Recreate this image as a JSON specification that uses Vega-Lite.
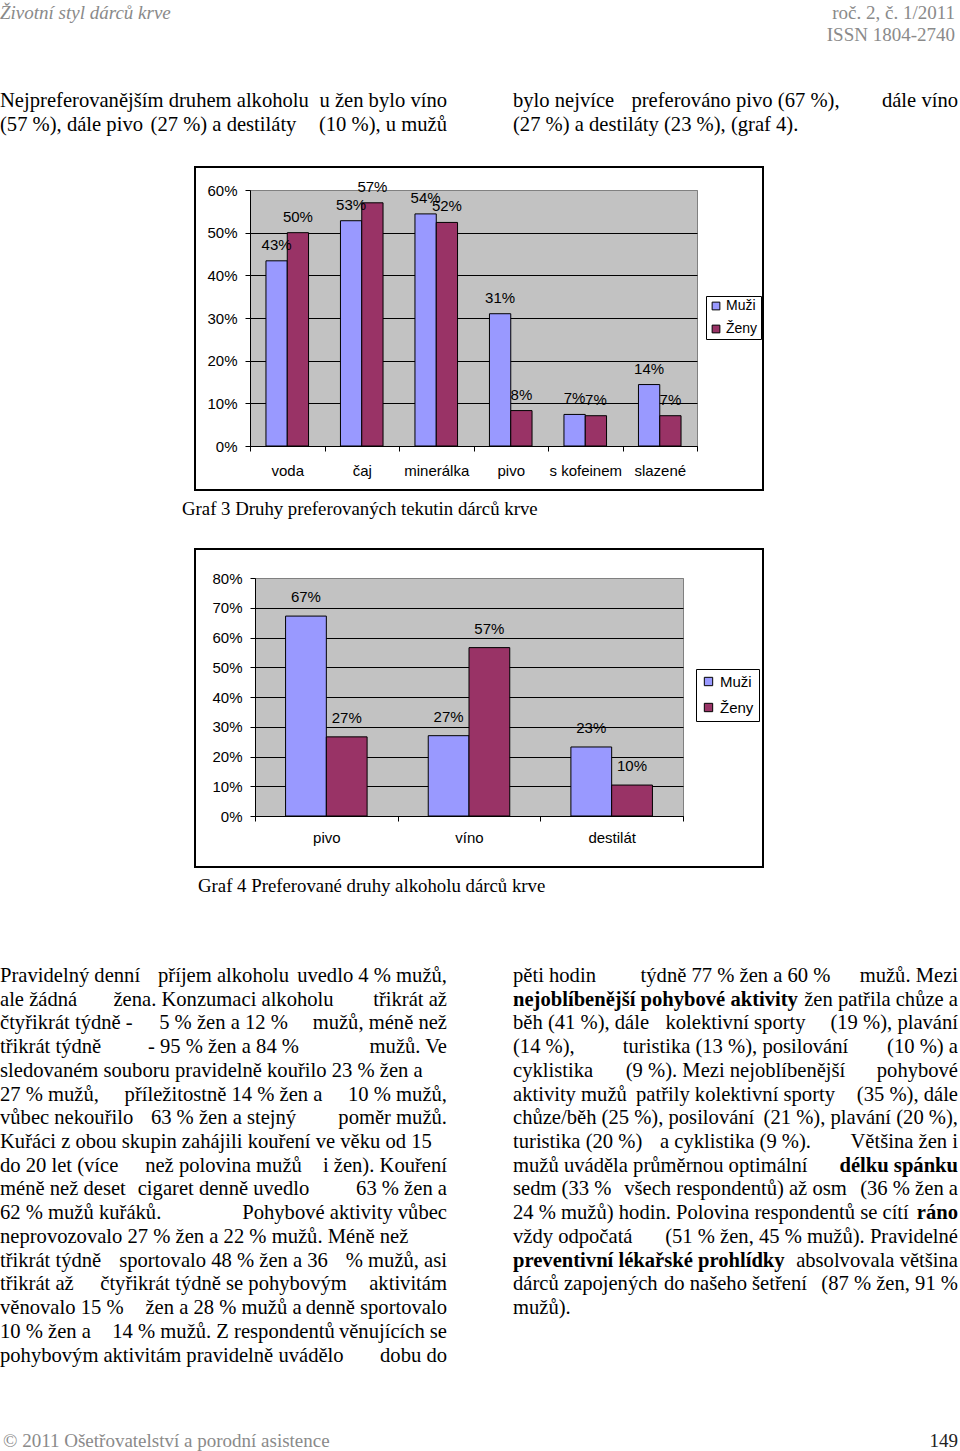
{
  "$schema": "https://vega.github.io/schema/vega-lite/v6.json",
  "padding": 0,
  "background": "white",
  "spacing": 0,
  "resolve": {"scale": {"color": "independent", "xOffset": "independent"}, "legend": {"color": "independent"}},
  "config": {"view": {"stroke": null}},
  "datasets": {
    "head": [
      {"col": "L", "ln": 1, "t": "Životní styl dárců krve"},
      {"col": "R", "ln": 1, "t": "roč. 2, č. 1/2011"},
      {"col": "R", "ln": 2, "t": "ISSN 1804-2740"}
    ],
    "top": [
      {"col": "L", "ln": 1, "part": "lead", "t": "Nejpreferovanějším druhem alkoholu"},
      {"col": "L", "ln": 1, "part": "tail", "t": "u žen bylo víno"},
      {"col": "L", "ln": 2, "part": "lead", "t": "(57 %), dále pivo"},
      {"col": "L", "ln": 2, "part": "mid", "t": "(27 %) a destiláty"},
      {"col": "L", "ln": 2, "part": "tail", "t": "(10 %), u mužů"},
      {"col": "R", "ln": 1, "part": "lead", "t": "bylo nejvíce"},
      {"col": "R", "ln": 1, "part": "mid", "t": "preferováno pivo (67 %),"},
      {"col": "R", "ln": 1, "part": "tail", "t": "dále víno"},
      {"col": "R", "ln": 2, "part": "whole", "t": "(27 %) a destiláty (23 %), (graf 4)."}
    ],
    "g3": [
      {"cat": "voda", "sex": "Muži", "v": 0.434},
      {"cat": "voda", "sex": "Ženy", "v": 0.5},
      {"cat": "čaj", "sex": "Muži", "v": 0.528},
      {"cat": "čaj", "sex": "Ženy", "v": 0.57},
      {"cat": "minerálka", "sex": "Muži", "v": 0.544},
      {"cat": "minerálka", "sex": "Ženy", "v": 0.524},
      {"cat": "pivo", "sex": "Muži", "v": 0.31},
      {"cat": "pivo", "sex": "Ženy", "v": 0.083},
      {"cat": "s kofeinem", "sex": "Muži", "v": 0.074},
      {"cat": "s kofeinem", "sex": "Ženy", "v": 0.071},
      {"cat": "slazené", "sex": "Muži", "v": 0.144},
      {"cat": "slazené", "sex": "Ženy", "v": 0.071}
    ],
    "g4": [
      {"cat": "pivo", "sex": "Muži", "v": 0.672},
      {"cat": "pivo", "sex": "Ženy", "v": 0.266},
      {"cat": "víno", "sex": "Muži", "v": 0.27},
      {"cat": "víno", "sex": "Ženy", "v": 0.566},
      {"cat": "destilát", "sex": "Muži", "v": 0.232},
      {"cat": "destilát", "sex": "Ženy", "v": 0.104}
    ],
    "caps": [
      {"fig": "3", "col": "L", "ln": 1, "t": "Graf 3 Druhy preferovaných tekutin dárců krve"},
      {"fig": "4", "col": "L", "ln": 1, "t": "Graf 4 Preferované druhy alkoholu dárců krve"}
    ],
    "body": [
      {"col": "L", "ln": 1, "part": "lead", "em": false, "t": "Pravidelný denní"},
      {"col": "L", "ln": 1, "part": "mid", "em": false, "t": "příjem alkoholu"},
      {"col": "L", "ln": 1, "part": "tail", "em": false, "t": "uvedlo 4 % mužů,"},
      {"col": "L", "ln": 2, "part": "lead", "em": false, "t": "ale žádná"},
      {"col": "L", "ln": 2, "part": "mid", "em": false, "t": "žena. Konzumaci alkoholu"},
      {"col": "L", "ln": 2, "part": "tail", "em": false, "t": "třikrát až"},
      {"col": "L", "ln": 3, "part": "lead", "em": false, "t": "čtyřikrát týdně -"},
      {"col": "L", "ln": 3, "part": "mid", "em": false, "t": "5 % žen a 12 %"},
      {"col": "L", "ln": 3, "part": "tail", "em": false, "t": "mužů, méně než"},
      {"col": "L", "ln": 4, "part": "lead", "em": false, "t": "třikrát týdně"},
      {"col": "L", "ln": 4, "part": "mid", "em": false, "t": "- 95 % žen a 84 %"},
      {"col": "L", "ln": 4, "part": "tail", "em": false, "t": "mužů. Ve"},
      {"col": "L", "ln": 5, "part": "whole", "em": false, "t": "sledovaném souboru pravidelně kouřilo 23 % žen a"},
      {"col": "L", "ln": 6, "part": "lead", "em": false, "t": "27 % mužů,"},
      {"col": "L", "ln": 6, "part": "mid", "em": false, "t": "příležitostně 14 % žen a"},
      {"col": "L", "ln": 6, "part": "tail", "em": false, "t": "10 % mužů,"},
      {"col": "L", "ln": 7, "part": "lead", "em": false, "t": "vůbec nekouřilo"},
      {"col": "L", "ln": 7, "part": "mid", "em": false, "t": "63 % žen a stejný"},
      {"col": "L", "ln": 7, "part": "tail", "em": false, "t": "poměr mužů."},
      {"col": "L", "ln": 8, "part": "whole", "em": false, "t": "Kuřáci z obou skupin zahájili kouření ve věku od 15"},
      {"col": "L", "ln": 9, "part": "lead", "em": false, "t": "do 20 let (více"},
      {"col": "L", "ln": 9, "part": "mid", "em": false, "t": "než polovina mužů"},
      {"col": "L", "ln": 9, "part": "tail", "em": false, "t": "i žen). Kouření"},
      {"col": "L", "ln": 10, "part": "lead", "em": false, "t": "méně než deset"},
      {"col": "L", "ln": 10, "part": "mid", "em": false, "t": "cigaret denně uvedlo"},
      {"col": "L", "ln": 10, "part": "tail", "em": false, "t": "63 % žen a"},
      {"col": "L", "ln": 11, "part": "lead", "em": false, "t": "62 % mužů kuřáků."},
      {"col": "L", "ln": 11, "part": "tail", "em": false, "t": "Pohybové aktivity vůbec"},
      {"col": "L", "ln": 12, "part": "whole", "em": false, "t": "neprovozovalo 27 % žen a 22 % mužů. Méně než"},
      {"col": "L", "ln": 13, "part": "lead", "em": false, "t": "třikrát týdně"},
      {"col": "L", "ln": 13, "part": "mid", "em": false, "t": "sportovalo 48 % žen a 36"},
      {"col": "L", "ln": 13, "part": "tail", "em": false, "t": "% mužů, asi"},
      {"col": "L", "ln": 14, "part": "lead", "em": false, "t": "třikrát až"},
      {"col": "L", "ln": 14, "part": "mid", "em": false, "t": "čtyřikrát týdně se pohybovým"},
      {"col": "L", "ln": 14, "part": "tail", "em": false, "t": "aktivitám"},
      {"col": "L", "ln": 15, "part": "lead", "em": false, "t": "věnovalo 15 %"},
      {"col": "L", "ln": 15, "part": "mid", "em": false, "t": "žen a 28 % mužů a"},
      {"col": "L", "ln": 15, "part": "tail", "em": false, "t": "denně sportovalo"},
      {"col": "L", "ln": 16, "part": "lead", "em": false, "t": "10 % žen a"},
      {"col": "L", "ln": 16, "part": "mid", "em": false, "t": "14 % mužů. Z respondentů"},
      {"col": "L", "ln": 16, "part": "tail", "em": false, "t": "věnujících se"},
      {"col": "L", "ln": 17, "part": "lead", "em": false, "t": "pohybovým"},
      {"col": "L", "ln": 17, "part": "mid", "em": false, "t": "aktivitám pravidelně uvádělo"},
      {"col": "L", "ln": 17, "part": "tail", "em": false, "t": "dobu do"},
      {"col": "R", "ln": 1, "part": "lead", "em": false, "t": "pěti hodin"},
      {"col": "R", "ln": 1, "part": "mid", "em": false, "t": "týdně 77 % žen a 60 %"},
      {"col": "R", "ln": 1, "part": "tail", "em": false, "t": "mužů. Mezi"},
      {"col": "R", "ln": 2, "part": "lead", "em": true, "t": "nejoblíbenější pohybové aktivity"},
      {"col": "R", "ln": 2, "part": "tail", "em": false, "t": "žen patřila chůze a"},
      {"col": "R", "ln": 3, "part": "lead", "em": false, "t": "běh (41 %), dále"},
      {"col": "R", "ln": 3, "part": "mid", "em": false, "t": "kolektivní sporty"},
      {"col": "R", "ln": 3, "part": "tail", "em": false, "t": "(19 %), plavání"},
      {"col": "R", "ln": 4, "part": "lead", "em": false, "t": "(14 %),"},
      {"col": "R", "ln": 4, "part": "mid", "em": false, "t": "turistika (13 %), posilování"},
      {"col": "R", "ln": 4, "part": "tail", "em": false, "t": "(10 %) a"},
      {"col": "R", "ln": 5, "part": "lead", "em": false, "t": "cyklistika"},
      {"col": "R", "ln": 5, "part": "mid", "em": false, "t": "(9 %). Mezi nejoblíbenější"},
      {"col": "R", "ln": 5, "part": "tail", "em": false, "t": "pohybové"},
      {"col": "R", "ln": 6, "part": "lead", "em": false, "t": "aktivity mužů"},
      {"col": "R", "ln": 6, "part": "mid", "em": false, "t": "patřily kolektivní sporty"},
      {"col": "R", "ln": 6, "part": "tail", "em": false, "t": "(35 %), dále"},
      {"col": "R", "ln": 7, "part": "lead", "em": false, "t": "chůze/běh (25 %), posilování"},
      {"col": "R", "ln": 7, "part": "tail", "em": false, "t": "(21 %), plavání (20 %),"},
      {"col": "R", "ln": 8, "part": "lead", "em": false, "t": "turistika (20 %)"},
      {"col": "R", "ln": 8, "part": "mid", "em": false, "t": "a cyklistika (9 %)."},
      {"col": "R", "ln": 8, "part": "tail", "em": false, "t": "Většina žen i"},
      {"col": "R", "ln": 9, "part": "lead", "em": false, "t": "mužů uváděla průměrnou optimální"},
      {"col": "R", "ln": 9, "part": "tail", "em": true, "t": "délku spánku"},
      {"col": "R", "ln": 10, "part": "lead", "em": false, "t": "sedm (33 %"},
      {"col": "R", "ln": 10, "part": "mid", "em": false, "t": "všech respondentů) až osm"},
      {"col": "R", "ln": 10, "part": "tail", "em": false, "t": "(36 % žen a"},
      {"col": "R", "ln": 11, "part": "lead", "em": false, "t": "24 % mužů) hodin. Polovina respondentů se cítí"},
      {"col": "R", "ln": 11, "part": "tail", "em": true, "t": "ráno"},
      {"col": "R", "ln": 12, "part": "lead", "em": false, "t": "vždy odpočatá"},
      {"col": "R", "ln": 12, "part": "tail", "em": false, "t": "(51 % žen, 45 % mužů). Pravidelné"},
      {"col": "R", "ln": 13, "part": "lead", "em": true, "t": "preventivní lékařské prohlídky"},
      {"col": "R", "ln": 13, "part": "tail", "em": false, "t": "absolvovala většina"},
      {"col": "R", "ln": 14, "part": "lead", "em": false, "t": "dárců zapojených"},
      {"col": "R", "ln": 14, "part": "mid", "em": false, "t": "do našeho šetření"},
      {"col": "R", "ln": 14, "part": "tail", "em": false, "t": "(87 % žen, 91 %"},
      {"col": "R", "ln": 15, "part": "whole", "em": false, "t": "mužů)."}
    ],
    "foot": [
      {"col": "L", "ln": 1, "t": "© 2011 Ošetřovatelství a porodní asistence"},
      {"col": "R", "ln": 1, "t": "149"}
    ]
  },
  "vconcat": [
    {
      "width": 960, "height": 60, "view": {"stroke": null},
      "data": {"name": "head"},
      "encoding": {
        "y": {"field": "ln", "type": "quantitative", "scale": {"domain": [1, 2], "range": [19, 41]}, "axis": null},
        "text": {"field": "t"}
      },
      "layer": [
        {"transform": [{"filter": "datum.col == 'L'"}],
         "mark": {"type": "text", "align": "left", "baseline": "alphabetic", "font": "Liberation Serif", "fontSize": 19, "fontStyle": "italic", "color": "#8a8a8a"},
         "encoding": {"x": {"field": "col", "type": "nominal", "scale": {"type": "point", "domain": ["L", "R"], "range": [0, 955], "padding": 0}, "axis": null}}},
        {"transform": [{"filter": "datum.col == 'R'"}],
         "mark": {"type": "text", "align": "right", "baseline": "alphabetic", "font": "Liberation Serif", "fontSize": 19, "color": "#8a8a8a"},
         "encoding": {"x": {"field": "col", "type": "nominal", "scale": {"type": "point", "domain": ["L", "R"], "range": [0, 955], "padding": 0}, "axis": null}}}
      ],
      "resolve": {"scale": {"x": "independent"}}
    },
    {
      "width": 960, "height": 105, "view": {"stroke": null},
      "data": {"name": "top"},
      "encoding": {
        "y": {"field": "ln", "type": "quantitative", "scale": {"domain": [1, 2], "range": [47, 71]}, "axis": null},
        "text": {"field": "t"}
      },
      "layer": [
        {"transform": [{"filter": "datum.part == 'lead' || datum.part == 'whole'"}],
         "mark": {"type": "text", "align": "left", "baseline": "alphabetic", "font": "Liberation Serif", "fontSize": 20.6, "color": "black"},
         "encoding": {"x": {"field": "col", "type": "nominal", "scale": {"type": "point", "domain": ["L", "R"], "range": [0, 513], "padding": 0}, "axis": null}}},
        {"transform": [{"filter": "datum.part == 'mid'"}],
         "mark": {"type": "text", "align": "center", "baseline": "alphabetic", "font": "Liberation Serif", "fontSize": 20.6, "color": "black"},
         "encoding": {"x": {"field": "col", "type": "nominal", "scale": {"type": "point", "domain": ["L", "R"], "range": [223.5, 735.5], "padding": 0}, "axis": null}}},
        {"transform": [{"filter": "datum.part == 'tail'"}],
         "mark": {"type": "text", "align": "right", "baseline": "alphabetic", "font": "Liberation Serif", "fontSize": 20.6, "color": "black"},
         "encoding": {"x": {"field": "col", "type": "nominal", "scale": {"type": "point", "domain": ["L", "R"], "range": [447, 958], "padding": 0}, "axis": null}}}
      ],
      "resolve": {"scale": {"x": "independent"}}
    },
    {
      "hconcat": [
        {"width": 193, "height": 256, "view": {"stroke": null}, "data": {"values": []}, "mark": "point", "encoding": {}},
        {
          "width": 447, "height": 256,
          "view": {"fill": "#c2c2c2", "stroke": "#808080"},
          "layer": [
            {
              "data": {"name": "g3"},
              "encoding": {
                "x": {"field": "cat", "type": "nominal", "sort": ["voda", "čaj", "minerálka", "pivo", "s kofeinem", "slazené"],
                      "scale": {"paddingInner": 0, "paddingOuter": 0},
                      "axis": {"title": null, "labelAngle": 0, "tickBand": "extent", "tickSize": 5, "tickColor": "black", "domainColor": "black", "labelPadding": 12, "labelFont": "Liberation Sans", "labelFontSize": 15, "labelColor": "black", "grid": false}},
                "xOffset": {"field": "sex", "type": "nominal", "sort": ["Muži", "Ženy"], "scale": {"paddingInner": 0, "paddingOuter": 0.75}},
                "y": {"field": "v", "type": "quantitative", "scale": {"domain": [0, 0.6], "nice": false},
                      "axis": {"title": null, "values": [0, 0.1, 0.2, 0.3, 0.4, 0.5, 0.6], "format": ".0%", "tickSize": 5, "tickColor": "black", "domainColor": "black", "labelPadding": 8, "labelFont": "Liberation Sans", "labelFontSize": 15, "labelColor": "black", "grid": true, "gridOpacity": 1, "gridColor": {"condition": {"test": "datum.value > 0.59", "value": "#808080"}, "value": "black"}}}
              },
              "layer": [
                {"mark": {"type": "bar", "stroke": "black", "strokeWidth": 1},
                 "encoding": {"color": {"field": "sex", "type": "nominal", "scale": {"domain": ["Muži", "Ženy"], "range": ["#9999ff", "#993366"]},
                   "legend": {"title": null, "orient": "none", "legendX": 456, "legendY": 106, "strokeColor": "black", "fillColor": "white", "padding": 3, "rowPadding": 9, "symbolType": "square", "symbolSize": 60, "symbolStrokeColor": "black", "symbolStrokeWidth": 1, "labelFont": "Liberation Sans", "labelFontSize": 14, "labelColor": "black", "labelOffset": 3}}}},
                {"mark": {"type": "text", "baseline": "middle", "dy": -16, "font": "Liberation Sans", "fontSize": 15, "color": "black"},
                 "encoding": {"text": {"field": "v", "type": "quantitative", "format": ".0%"}}}
              ]
            },
            {
              "data": {"values": [{"box": "frame"}]},
              "mark": {"type": "rect", "filled": false, "stroke": "black", "strokeWidth": 2},
              "encoding": {
                "x": {"datum": 0, "type": "quantitative", "scale": {"domain": [0, 1], "range": [-55, 513]}, "axis": null},
                "x2": {"datum": 1},
                "y": {"datum": 0, "type": "quantitative", "scale": {"domain": [0, 1], "range": [300, -23]}, "axis": null},
                "y2": {"datum": 1}
              }
            }
          ],
          "resolve": {"scale": {"x": "independent", "y": "independent"}}
        }
      ],
      "spacing": 0,
      "resolve": {"scale": {"color": "independent", "xOffset": "independent"}, "legend": {"color": "independent"}}
    },
    {
      "width": 960, "height": 55, "view": {"stroke": null},
      "data": {"name": "caps"},
      "transform": [{"filter": "datum.fig == '3'"}],
      "mark": {"type": "text", "align": "left", "baseline": "alphabetic", "font": "Liberation Serif", "fontSize": 18.8, "color": "black"},
      "encoding": {
        "x": {"field": "col", "type": "nominal", "scale": {"type": "point", "domain": ["L", "R"], "range": [182, 700], "padding": 0}, "axis": null},
        "y": {"field": "ln", "type": "quantitative", "scale": {"domain": [1, 2], "range": [23, 47]}, "axis": null},
        "text": {"field": "t"}
      }
    },
    {
      "hconcat": [
        {"width": 193, "height": 238, "view": {"stroke": null}, "data": {"values": []}, "mark": "point", "encoding": {}},
        {
          "width": 428, "height": 238,
          "view": {"fill": "#c2c2c2", "stroke": "#808080"},
          "layer": [
            {
              "data": {"name": "g4"},
              "encoding": {
                "x": {"field": "cat", "type": "nominal", "sort": ["pivo", "víno", "destilát"],
                      "scale": {"paddingInner": 0, "paddingOuter": 0},
                      "axis": {"title": null, "labelAngle": 0, "tickBand": "extent", "tickSize": 5, "tickColor": "black", "domainColor": "black", "labelPadding": 9, "labelFont": "Liberation Sans", "labelFontSize": 15, "labelColor": "black", "grid": false}},
                "xOffset": {"field": "sex", "type": "nominal", "sort": ["Muži", "Ženy"], "scale": {"paddingInner": 0, "paddingOuter": 0.75}},
                "y": {"field": "v", "type": "quantitative", "scale": {"domain": [0, 0.8], "nice": false},
                      "axis": {"title": null, "values": [0, 0.1, 0.2, 0.3, 0.4, 0.5, 0.6, 0.7, 0.8], "format": ".0%", "tickSize": 5, "tickColor": "black", "domainColor": "black", "labelPadding": 8, "labelFont": "Liberation Sans", "labelFontSize": 15, "labelColor": "black", "grid": true, "gridOpacity": 1, "gridColor": {"condition": {"test": "datum.value > 0.79", "value": "#808080"}, "value": "black"}}}
              },
              "layer": [
                {"mark": {"type": "bar", "stroke": "black", "strokeWidth": 1},
                 "encoding": {"color": {"field": "sex", "type": "nominal", "scale": {"domain": ["Muži", "Ženy"], "range": ["#9999ff", "#993366"]},
                   "legend": {"title": null, "orient": "none", "legendX": 441, "legendY": 91, "strokeColor": "black", "fillColor": "white", "padding": 5, "rowPadding": 10, "symbolType": "square", "symbolSize": 70, "symbolStrokeColor": "black", "symbolStrokeWidth": 1, "labelFont": "Liberation Sans", "labelFontSize": 15, "labelColor": "black", "labelOffset": 4}}}},
                {"mark": {"type": "text", "baseline": "middle", "dy": -19, "font": "Liberation Sans", "fontSize": 15, "color": "black"},
                 "encoding": {"text": {"field": "v", "type": "quantitative", "format": ".0%"}}}
              ]
            },
            {
              "data": {"values": [{"box": "frame"}]},
              "mark": {"type": "rect", "filled": false, "stroke": "black", "strokeWidth": 2},
              "encoding": {
                "x": {"datum": 0, "type": "quantitative", "scale": {"domain": [0, 1], "range": [-60, 508]}, "axis": null},
                "x2": {"datum": 1},
                "y": {"datum": 0, "type": "quantitative", "scale": {"domain": [0, 1], "range": [289, -29]}, "axis": null},
                "y2": {"datum": 1}
              }
            }
          ],
          "resolve": {"scale": {"x": "independent", "y": "independent"}}
        }
      ],
      "spacing": 0,
      "resolve": {"scale": {"color": "independent", "xOffset": "independent"}, "legend": {"color": "independent"}}
    },
    {
      "width": 960, "height": 81, "view": {"stroke": null},
      "data": {"name": "caps"},
      "transform": [{"filter": "datum.fig == '4'"}],
      "mark": {"type": "text", "align": "left", "baseline": "alphabetic", "font": "Liberation Serif", "fontSize": 18.8, "color": "black"},
      "encoding": {
        "x": {"field": "col", "type": "nominal", "scale": {"type": "point", "domain": ["L", "R"], "range": [198, 700], "padding": 0}, "axis": null},
        "y": {"field": "ln", "type": "quantitative", "scale": {"domain": [1, 2], "range": [23, 47]}, "axis": null},
        "text": {"field": "t"}
      }
    },
    {
      "width": 960, "height": 450, "view": {"stroke": null},
      "data": {"name": "body"},
      "encoding": {
        "y": {"field": "ln", "type": "quantitative", "scale": {"domain": [1, 17], "range": [32, 411.5]}, "axis": null},
        "text": {"field": "t"}
      },
      "layer": [
        {"transform": [{"filter": "(datum.part == 'lead' || datum.part == 'whole') && !datum.em"}],
         "mark": {"type": "text", "align": "left", "baseline": "alphabetic", "font": "Liberation Serif", "fontSize": 20.6, "color": "black"},
         "encoding": {"x": {"field": "col", "type": "nominal", "scale": {"type": "point", "domain": ["L", "R"], "range": [0, 513], "padding": 0}, "axis": null}}},
        {"transform": [{"filter": "(datum.part == 'lead' || datum.part == 'whole') && datum.em"}],
         "mark": {"type": "text", "align": "left", "baseline": "alphabetic", "font": "Liberation Serif", "fontSize": 20.6, "fontWeight": "bold", "color": "black"},
         "encoding": {"x": {"field": "col", "type": "nominal", "scale": {"type": "point", "domain": ["L", "R"], "range": [0, 513], "padding": 0}, "axis": null}}},
        {"transform": [{"filter": "datum.part == 'mid'"}],
         "mark": {"type": "text", "align": "center", "baseline": "alphabetic", "font": "Liberation Serif", "fontSize": 20.6, "color": "black"},
         "encoding": {"x": {"field": "col", "type": "nominal", "scale": {"type": "point", "domain": ["L", "R"], "range": [223.5, 735.5], "padding": 0}, "axis": null}}},
        {"transform": [{"filter": "datum.part == 'tail' && !datum.em"}],
         "mark": {"type": "text", "align": "right", "baseline": "alphabetic", "font": "Liberation Serif", "fontSize": 20.6, "color": "black"},
         "encoding": {"x": {"field": "col", "type": "nominal", "scale": {"type": "point", "domain": ["L", "R"], "range": [447, 958], "padding": 0}, "axis": null}}},
        {"transform": [{"filter": "datum.part == 'tail' && datum.em"}],
         "mark": {"type": "text", "align": "right", "baseline": "alphabetic", "font": "Liberation Serif", "fontSize": 20.6, "fontWeight": "bold", "color": "black"},
         "encoding": {"x": {"field": "col", "type": "nominal", "scale": {"type": "point", "domain": ["L", "R"], "range": [447, 958], "padding": 0}, "axis": null}}}
      ],
      "resolve": {"scale": {"x": "independent"}}
    },
    {
      "width": 960, "height": 51, "view": {"stroke": null},
      "data": {"name": "foot"},
      "encoding": {
        "y": {"field": "ln", "type": "quantitative", "scale": {"domain": [1, 2], "range": [47, 71]}, "axis": null},
        "text": {"field": "t"}
      },
      "layer": [
        {"transform": [{"filter": "datum.col == 'L'"}],
         "mark": {"type": "text", "align": "left", "baseline": "alphabetic", "font": "Liberation Serif", "fontSize": 19, "color": "#8a8a8a"},
         "encoding": {"x": {"field": "col", "type": "nominal", "scale": {"type": "point", "domain": ["L", "R"], "range": [3, 958], "padding": 0}, "axis": null}}},
        {"transform": [{"filter": "datum.col == 'R'"}],
         "mark": {"type": "text", "align": "right", "baseline": "alphabetic", "font": "Liberation Serif", "fontSize": 19, "color": "#222222"},
         "encoding": {"x": {"field": "col", "type": "nominal", "scale": {"type": "point", "domain": ["L", "R"], "range": [3, 958], "padding": 0}, "axis": null}}}
      ],
      "resolve": {"scale": {"x": "independent"}}
    }
  ]
}
